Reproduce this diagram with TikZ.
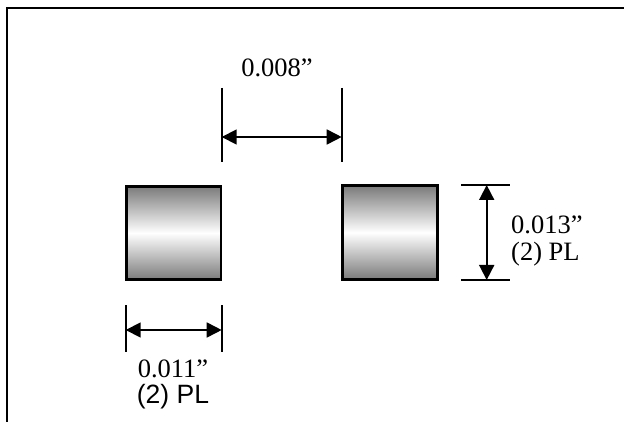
\documentclass[tikz,border=0pt]{standalone}
\usepackage{fontspec}
\setmainfont{Liberation Serif}
\newfontfamily\plfont{Liberation Sans}
\usetikzlibrary{arrows.meta}

\begin{document}
\begin{tikzpicture}[x=1pt,y=-1pt,>={Triangle[length=15pt,width=15pt]}]
  \tikzstyle{pad}=[rectangle,draw=black,line width=2.6pt,inner sep=0pt,minimum width=94.5pt,minimum height=93.5pt,top color=black!52,bottom color=black!52,middle color=white]
  \tikzstyle{dim}=[line width=1.7pt]
  \tikzstyle{dimtext}=[inner sep=0pt,font=\fontsize{26.5}{30}\selectfont]

\useasboundingbox (0,0) rectangle (624,422);
\draw [line width=2.4pt] (7,422) -- (7,8) -- (624,8);

\begin{scope}
% pads
\node [pad] (padL) at (173.7,233) {};
\node [pad] (padR) at (390,232.5) {};

% gap between the pads
\coordinate (ga1) at (221.7,88);
\coordinate (ga2) at (221.7,162);
\coordinate (gb1) at (341.7,88);
\coordinate (gb2) at (341.7,162);
\coordinate (ga) at (221.7,137);
\coordinate (gb) at (341.7,137);
\draw [dim] (ga1) -- (ga2);
\draw [dim] (gb1) -- (gb2);
\draw [dim,<->] (ga) -- (gb);
\node [dimtext,anchor=base] (gaptext) at (277,77) {0.008”};

% pad height
\coordinate (ha1) at (461,185);
\coordinate (ha2) at (510,185);
\coordinate (hb1) at (461,280);
\coordinate (hb2) at (510,280);
\coordinate (ha) at (486.7,185);
\coordinate (hb) at (486.7,280);
\draw [dim] (ha1) -- (ha2);
\draw [dim] (hb1) -- (hb2);
\draw [dim,<->] (ha) -- (hb);
\node [dimtext,anchor=base west] (htext) at (511,234) {0.013”};
\node [dimtext,anchor=base west] (hpl) at (511,261) {(2) PL};

% pad width
\coordinate (wa1) at (125.7,305);
\coordinate (wa2) at (125.7,352);
\coordinate (wb1) at (221.7,305);
\coordinate (wb2) at (221.7,352);
\coordinate (wa) at (125.7,330);
\coordinate (wb) at (221.7,330);
\draw [dim] (wa1) -- (wa2);
\draw [dim] (wb1) -- (wb2);
\draw [dim,<->] (wa) -- (wb);
\node [dimtext,anchor=base] (wtext) at (173,377) {0.011”};
\node [dimtext,anchor=base] (wpl) at (173,403) {\plfont (2) PL};
\end{scope}
\end{tikzpicture}
\end{document}
